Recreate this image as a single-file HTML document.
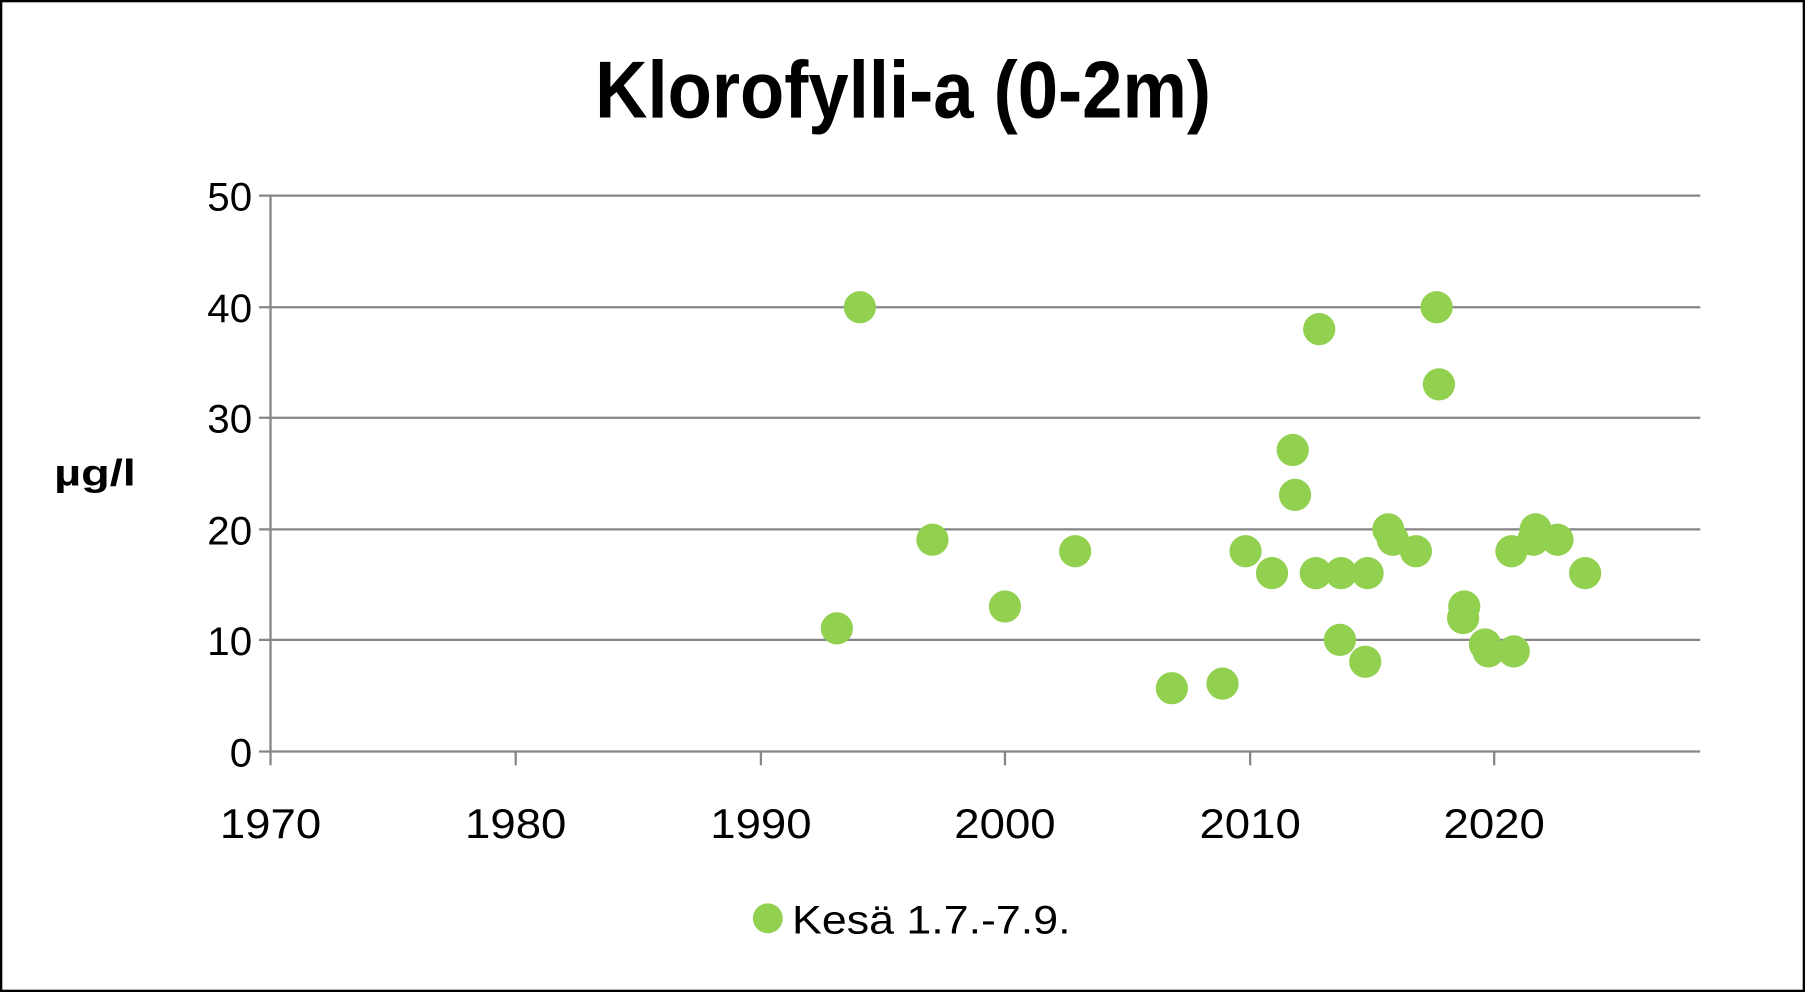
<!DOCTYPE html>
<html><head><meta charset="utf-8"><style>html,body{margin:0;padding:0;background:#fff}svg{display:block}</style></head>
<body>
<svg width="1805" height="992" viewBox="0 0 1568 862" preserveAspectRatio="none" xmlns="http://www.w3.org/2000/svg" font-family="Liberation Sans, sans-serif">
<rect x="1" y="1" width="1566" height="860" fill="#fff" stroke="#000" stroke-width="2"/>
<text x="517" y="102" font-size="70" font-weight="bold" textLength="535" lengthAdjust="spacingAndGlyphs">Klorofylli-a (0-2m)</text>
<g stroke="#868686" stroke-width="2">
<line x1="225" y1="170" x2="1477" y2="170"/>
<line x1="225" y1="267" x2="1477" y2="267"/>
<line x1="225" y1="363" x2="1477" y2="363"/>
<line x1="225" y1="460" x2="1477" y2="460"/>
<line x1="225" y1="556" x2="1477" y2="556"/>
<line x1="225" y1="653" x2="1477" y2="653"/>
<line x1="235" y1="170" x2="235" y2="665"/>
<line x1="448" y1="653" x2="448" y2="665"/>
<line x1="661" y1="653" x2="661" y2="665"/>
<line x1="873" y1="653" x2="873" y2="665"/>
<line x1="1086" y1="653" x2="1086" y2="665"/>
<line x1="1298" y1="653" x2="1298" y2="665"/>
</g>
<g font-size="35" text-anchor="end">
<text x="219" y="183">50</text><text x="219" y="280">40</text><text x="219" y="376">30</text>
<text x="219" y="473">20</text><text x="219" y="569">10</text><text x="219" y="666">0</text>
</g>
<g font-size="36">
<text x="191" y="728" textLength="88" lengthAdjust="spacingAndGlyphs">1970</text>
<text x="404" y="728" textLength="88" lengthAdjust="spacingAndGlyphs">1980</text>
<text x="617" y="728" textLength="88" lengthAdjust="spacingAndGlyphs">1990</text>
<text x="829" y="728" textLength="88" lengthAdjust="spacingAndGlyphs">2000</text>
<text x="1042" y="728" textLength="88" lengthAdjust="spacingAndGlyphs">2010</text>
<text x="1254" y="728" textLength="88" lengthAdjust="spacingAndGlyphs">2020</text>
</g>
<text x="47" y="422" font-size="32" font-weight="bold" textLength="71" lengthAdjust="spacingAndGlyphs">µg/l</text>
<g fill="#92d050">
<circle cx="727" cy="546" r="14"/><circle cx="747" cy="267" r="14"/><circle cx="810" cy="469" r="14"/>
<circle cx="873" cy="527" r="14"/><circle cx="934" cy="479" r="14"/><circle cx="1018" cy="598" r="14"/>
<circle cx="1062" cy="594" r="14"/><circle cx="1082" cy="479" r="14"/><circle cx="1105" cy="498" r="14"/>
<circle cx="1123" cy="391" r="14"/><circle cx="1125" cy="430" r="14"/><circle cx="1146" cy="286" r="14"/>
<circle cx="1143" cy="498" r="14"/><circle cx="1165" cy="498" r="14"/><circle cx="1164" cy="556" r="14"/>
<circle cx="1188" cy="498" r="14"/><circle cx="1186" cy="575" r="14"/><circle cx="1206" cy="460" r="14"/>
<circle cx="1210" cy="469" r="14"/><circle cx="1230" cy="479" r="14"/><circle cx="1248" cy="267" r="14"/>
<circle cx="1250" cy="334" r="14"/><circle cx="1272" cy="527" r="14"/><circle cx="1271" cy="537" r="14"/>
<circle cx="1290" cy="560" r="14"/><circle cx="1293" cy="566" r="14"/><circle cx="1313" cy="479" r="14"/>
<circle cx="1315" cy="566" r="14"/><circle cx="1332" cy="469" r="14"/><circle cx="1334" cy="460" r="14"/>
<circle cx="1353" cy="469" r="14"/><circle cx="1377" cy="498" r="14"/>
<circle cx="667" cy="798" r="13"/>
</g>
<text x="688" y="811" font-size="35" textLength="242" lengthAdjust="spacingAndGlyphs">Kesä 1.7.-7.9.</text>
</svg>
</body></html>
